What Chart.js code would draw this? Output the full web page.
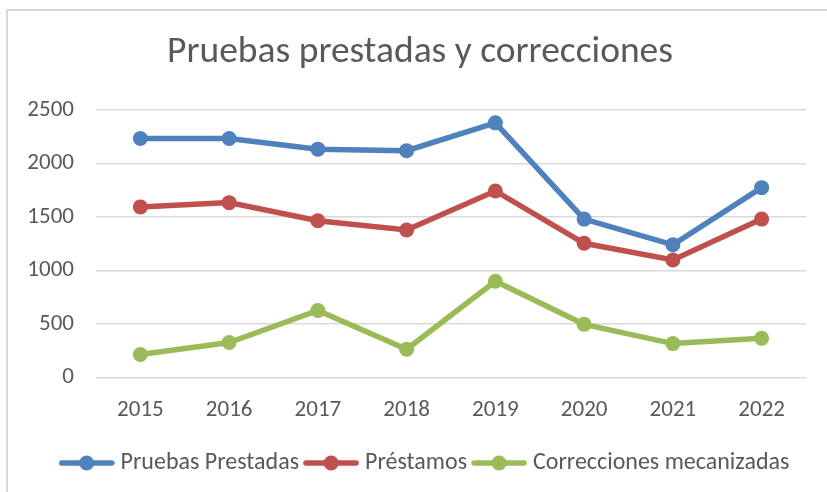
<!DOCTYPE html>
<html>
<head>
<meta charset="utf-8">
<script src="https://cdn.jsdelivr.net/npm/chart.js@4/dist/chart.umd.min.js"></script>
<style>
  html, body { margin: 0; padding: 0; background: #fff; }
  #wrap { position: relative; width: 827px; height: 492px; }
  #frame { position: absolute; left: 6px; top: 9px; right: 0; bottom: 0;
           border-top: 2px solid #d9d9d9; border-left: 2px solid #d9d9d9; pointer-events: none; }
</style>
</head>
<body>
<div id="wrap">
  <canvas id="myChart" width="827" height="492"></canvas>
  <div id="frame"></div>
</div>
<script>
const years = ['2015', '2016', '2017', '2018', '2019', '2020', '2021', '2022'];
const pruebasPrestadas = [2234, 2234, 2134, 2120, 2380, 1480, 1240, 1774];
const prestamos = [1594, 1634, 1465, 1378, 1743, 1254, 1098, 1480];
const correcciones = [214, 326, 626, 263, 899, 496, 316, 366];
const yTicks = [0, 500, 1000, 1500, 2000, 2500];

const fontName = "Carlito, Lato, 'Open Sans', sans-serif";
const textColor = '#595959';

function legendMark(color) {
    const c = document.createElement('canvas');
    c.width = 56;
    c.height = 16;
    const g = c.getContext('2d');
    g.strokeStyle = color;
    g.lineWidth = 5.5;
    g.lineCap = 'round';
    g.beginPath();
    g.moveTo(3, 8);
    g.lineTo(53, 8);
    g.stroke();
    g.fillStyle = color;
    g.beginPath();
    g.arc(28, 8, 7.5, 0, Math.PI * 2);
    g.fill();
    return c;
}

function series(label, data, color) {
    return {
        label: label,
        data: data,
        borderColor: color,
        backgroundColor: color,
        borderWidth: 5.5,
        pointRadius: 7.5,
        pointHoverRadius: 7.5,
        pointBorderWidth: 0,
        pointStyle: 'circle',
        tension: 0,
        marker: legendMark(color)
    };
}

// nudge title and legend sideways, like in the original
const nudge = {
    id: 'nudge',
    afterLayout(chart) {
        chart.titleBlock.left += 5;
        chart.titleBlock.right += 5;
        chart.legend.left += 12;
        chart.legend.right += 12;
    }
};

const ctx = document.getElementById('myChart');
new Chart(ctx, {
    type: 'line',
    data: {
        labels: years,
        datasets: [
            series('Pruebas Prestadas', pruebasPrestadas, '#4f81bd'),
            series('Préstamos', prestamos, '#c0504d'),
            series('Correcciones mecanizadas', correcciones, '#9bbb59')
        ]
    },
    options: {
        responsive: false,
        animation: false,
        layout: { padding: { left: 24, right: 21, top: 10, bottom: 7 } },
        scales: {
            x: {
                offset: true,
                grid: { display: false, drawTicks: false },
                border: { display: false },
                ticks: { color: textColor, font: { family: fontName, size: 23 }, padding: 19 },
                afterFit: function (axis) { axis.height -= 2; }
            },
            y: {
                min: 0,
                max: 2500,
                afterBuildTicks: function (axis) {
                    axis.ticks = yTicks.map(v => ({ value: v }));
                },
                afterFit: function (axis) { axis.width = 72; },
                grid: { color: '#d9d9d9', lineWidth: 1.5, drawTicks: false },
                border: { display: false },
                ticks: {
                    color: textColor,
                    font: { family: fontName, size: 23 },
                    padding: 22,
                    callback: v => String(v)
                }
            }
        },
        plugins: {
            title: {
                display: true,
                text: 'Pruebas prestadas y correcciones',
                color: textColor,
                font: { family: fontName, size: 37.5, weight: 'normal' },
                padding: { top: 20, bottom: 35 }
            },
            legend: {
                position: 'bottom',
                labels: {
                    color: textColor,
                    font: { family: fontName, size: 24 },
                    usePointStyle: true,
                    pointStyleWidth: 44,
                    padding: 10,
                    generateLabels: function (chart) {
                        return chart.data.datasets.map((ds, i) => ({
                            text: ds.label,
                            pointStyle: ds.marker,
                            fillStyle: ds.borderColor,
                            strokeStyle: ds.borderColor,
                            lineWidth: 0,
                            fontColor: textColor,
                            hidden: false,
                            datasetIndex: i
                        }));
                    }
                }
            },
            tooltip: { enabled: false }
        }
    },
    plugins: [nudge]
});
</script>
</body>
</html>
